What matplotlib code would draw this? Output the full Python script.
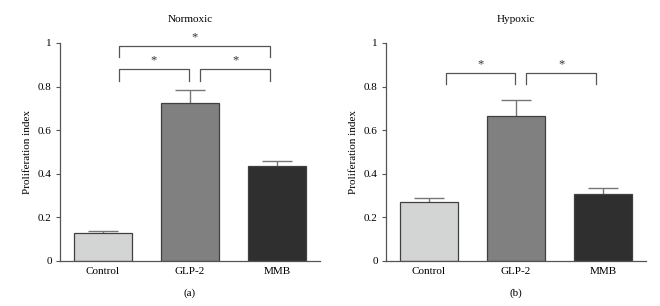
import matplotlib.pyplot as plt
import numpy as np

plt.rcParams['font.family'] = ['Liberation Serif', 'DejaVu Serif']

groups = ["Control", "GLP-2", "MMB"]
colors = ["#d3d5d4", "#7f807f", "#2f2f2f"]

titles = ["Normoxic", "Hypoxic"]
panel_labels = ["(a)", "(b)"]

normoxic_mean = [0.128, 0.727, 0.437]
normoxic_err = [0.010, 0.056, 0.023]
hypoxic_mean = [0.269, 0.667, 0.307]
hypoxic_err = [0.021, 0.070, 0.027]

# brackets: (x_left, x_right, y_top, leg_drop)
normoxic_brackets = [(0.18, 1.92, 0.988, 0.054), (0.18, 0.99, 0.879, 0.053), (1.12, 1.92, 0.879, 0.053)]
hypoxic_brackets = [(0.19, 0.99, 0.864, 0.052), (1.12, 1.92, 0.864, 0.052)]

means = [normoxic_mean, hypoxic_mean]
errs = [normoxic_err, hypoxic_err]
brackets = [normoxic_brackets, hypoxic_brackets]

fontsize = 8
line_col = "#555555"

fig = plt.figure(figsize=(6.6, 3.06), dpi=100)
lefts = [60 / 660, 386 / 660]

for i in range(2):
    ax = fig.add_axes([lefts[i], 45 / 306, 260 / 660, 218 / 306])
    x = np.arange(len(groups))
    ax.errorbar(x, means[i], yerr=errs[i], fmt='none', ecolor="#777777",
                elinewidth=1, capsize=10.5, capthick=1, zorder=1)
    ax.bar(x, means[i], width=0.667, color=colors, edgecolor="#404040",
           linewidth=0.9, zorder=2)

    for (x0, x1, yt, d) in brackets[i]:
        ax.plot([x0, x0, x1, x1], [yt - d, yt, yt, yt - d], color=line_col,
                lw=0.9, clip_on=False, zorder=3)
        ax.text((x0 + x1) / 2, yt + 0.012, "*", ha='center', va='bottom',
                fontsize=fontsize + 1, color="#333333")

    ax.set_xlim(-0.495, 2.495)
    ax.set_ylim(0, 1)
    ax.set_yticks([0, 0.2, 0.4, 0.6, 0.8, 1.0])
    ax.set_yticklabels(["0", "0.2", "0.4", "0.6", "0.8", "1"])
    ax.set_xticks(x)
    ax.set_xticklabels(groups)
    ax.tick_params(axis='y', length=3, width=0.8, color=line_col, labelsize=fontsize, pad=3)
    ax.tick_params(axis='x', length=0, labelsize=fontsize, pad=4)
    for s in ['top', 'right']:
        ax.spines[s].set_visible(False)
    for s in ['left', 'bottom']:
        ax.spines[s].set_color(line_col)
        ax.spines[s].set_linewidth(0.9)

    ax.set_ylabel("Proliferation index", fontsize=fontsize, labelpad=4)
    ax.set_title(titles[i], fontsize=fontsize, pad=15)
    ax.text(0.5, -0.125, panel_labels[i], transform=ax.transAxes, ha='center',
            va='top', fontsize=fontsize)

plt.savefig("out.png", dpi=100)
